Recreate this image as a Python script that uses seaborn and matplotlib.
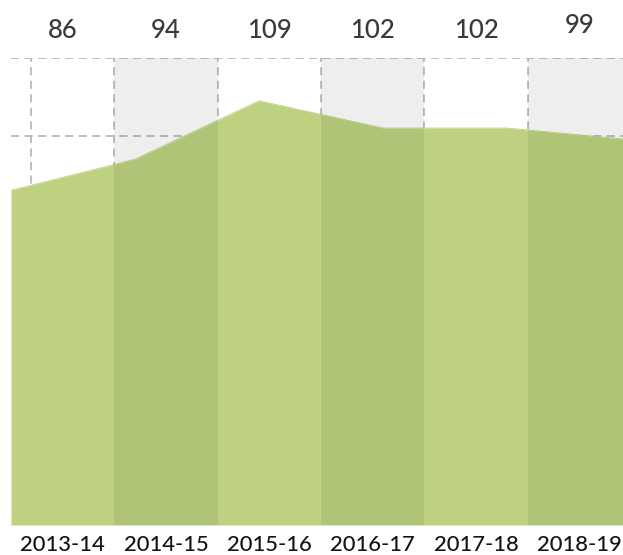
import matplotlib
matplotlib.use("Agg")
import matplotlib.pyplot as plt
import seaborn as sns
import numpy as np
import pandas as pd

# Data
seasons = ["2013-14", "2014-15", "2015-16", "2016-17", "2017-18", "2018-19"]
values = [86, 94, 109, 102, 102, 99]

sns.set_theme(style="white")
plt.rcParams["font.family"] = ["Lato", "DejaVu Sans"]

W, H = 623, 555
fig = plt.figure(figsize=(W / 100, H / 100), dpi=100)
# axes spans a little past the right edge of the canvas
left_px, right_px, top_px, bottom_px = 11, 631, 58, 525
ax = fig.add_axes([left_px / W, 1 - bottom_px / H,
                   (right_px - left_px) / W, (bottom_px - top_px) / H])

n = len(seasons)
df = pd.DataFrame({
    "season": seasons,
    "value": values,
    # area vertices spread across the full width of the columns
    "xpos": np.linspace(0, n, n),
})

ax.set_xlim(0, n)
ax.set_ylim(0, 120)

# dashed grid
grid_kw = dict(color="#b9b9b9", lw=1.3, ls=(0, (4.5, 3)), zorder=1)
for yv in [100, 120]:
    ax.axhline(yv, **grid_kw)
for xv in [0.19] + list(range(1, n)):
    ax.axvline(xv, ymin=0.5, **grid_kw)

# green area
ax.fill_between(df["xpos"], 0, df["value"], color="#bdd180", lw=0, zorder=2)
sns.lineplot(data=df, x="xpos", y="value", ax=ax, color="#bdd180", lw=0.6, zorder=2)

# alternating shaded columns
for i in range(1, n, 2):
    ax.axvspan(i, i + 1, color="#0a1a0a", alpha=0.072, lw=0, zorder=3)

# value labels above each column
for i, (s, v) in enumerate(zip(seasons, values)):
    dy = 1.3 if i == n - 1 else 0
    ax.text(i + 0.5, 127 + dy, f"{v}", ha="center", va="center",
            fontsize=18.5, fontweight="medium", color="#3a3a3a", clip_on=False)

ax.set_xticks(np.arange(n) + 0.5)
ax.set_xticklabels(seasons, fontsize=15.8, fontweight="medium", color="#141414")
ax.tick_params(axis="x", length=0, pad=7)
ax.set_yticks([])
ax.set_xlabel("")
ax.set_ylabel("")
for sp in ax.spines.values():
    sp.set_visible(False)
ax.patch.set_alpha(0)

fig.savefig("out.png", dpi=100)
